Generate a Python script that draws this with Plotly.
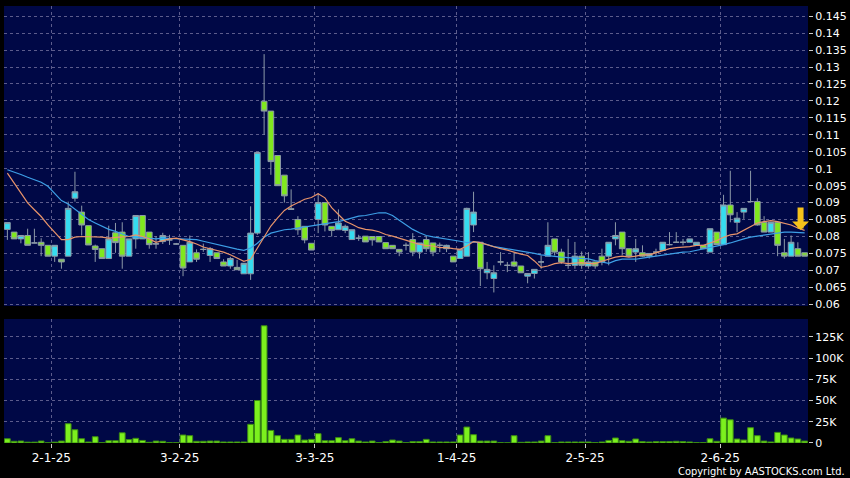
import plotly.graph_objects as go

# ---------------- data ----------------
open_ = [0.0821, 0.0813, 0.0793, 0.0803, 0.0781, 0.0783, 0.0774, 0.0742, 0.0733, 0.0742,
         0.0913, 0.0872, 0.0832, 0.0772, 0.0764, 0.0735, 0.0811, 0.0813, 0.0742, 0.0793,
         0.0862, 0.0813, 0.0779, 0.0785, 0.0790, 0.0778, 0.0774, 0.0725, 0.0752, 0.0762,
         0.0744, 0.0752, 0.0725, 0.0713, 0.0709, 0.0690, 0.0690, 0.0810, 0.1199, 0.1170,
         0.1039, 0.0981, 0.0882, 0.0850, 0.0830, 0.0780, 0.0850, 0.0900, 0.0830, 0.0820,
         0.0818, 0.0791, 0.0795, 0.0801, 0.0800, 0.0800, 0.0782, 0.0774, 0.0762, 0.0774,
         0.0791, 0.0754, 0.0791, 0.0781, 0.0774, 0.0764, 0.0742, 0.0735, 0.0742, 0.0834,
         0.0783, 0.0693, 0.0676, 0.0725, 0.0715, 0.0725, 0.0713, 0.0683, 0.0691, 0.0725,
         0.0742, 0.0793, 0.0754, 0.0715, 0.0715, 0.0742, 0.0713, 0.0725, 0.0742, 0.0742,
         0.0793, 0.0813, 0.0764, 0.0754, 0.0752, 0.0742, 0.0754, 0.0759, 0.0776, 0.0783,
         0.0783, 0.0783, 0.0774, 0.0774, 0.0754, 0.0813, 0.0776, 0.0893, 0.0842, 0.0872,
         0.0903, 0.0903, 0.0842, 0.0813, 0.0842, 0.0752, 0.0742, 0.0764, 0.0752]
high = [0.0841, 0.0813, 0.0803, 0.0823, 0.0823, 0.0795, 0.0774, 0.0774, 0.0733, 0.0903,
        0.0991, 0.0891, 0.0832, 0.0776, 0.0764, 0.0832, 0.0840, 0.0842, 0.0793, 0.0862,
        0.0862, 0.0813, 0.0801, 0.0811, 0.0805, 0.0781, 0.0774, 0.0803, 0.0762, 0.0779,
        0.0769, 0.0752, 0.0733, 0.0740, 0.0731, 0.0721, 0.0889, 0.1048, 0.1338, 0.1170,
        0.1039, 0.0981, 0.0939, 0.0860, 0.0830, 0.0780, 0.0928, 0.0900, 0.0830, 0.0880,
        0.0835, 0.0820, 0.0805, 0.0801, 0.0800, 0.0800, 0.0782, 0.0774, 0.0762, 0.0782,
        0.0810, 0.0781, 0.0801, 0.0781, 0.0782, 0.0776, 0.0742, 0.0762, 0.0885, 0.0932,
        0.0783, 0.0725, 0.0715, 0.0754, 0.0725, 0.0754, 0.0713, 0.0691, 0.0703, 0.0744,
        0.0842, 0.0793, 0.0764, 0.0793, 0.0784, 0.0756, 0.0754, 0.0725, 0.0764, 0.0783,
        0.0842, 0.0813, 0.0764, 0.0793, 0.0774, 0.0750, 0.0764, 0.0783, 0.0813, 0.0813,
        0.0793, 0.0793, 0.0783, 0.0774, 0.0823, 0.0813, 0.0923, 0.0994, 0.0872, 0.0883,
        0.0994, 0.0913, 0.0860, 0.0842, 0.0842, 0.0793, 0.0803, 0.0783, 0.0752]
low = [0.0790, 0.0793, 0.0780, 0.0774, 0.0780, 0.0742, 0.0742, 0.0725, 0.0705, 0.0742,
       0.0903, 0.0803, 0.0775, 0.0725, 0.0735, 0.0735, 0.0752, 0.0705, 0.0742, 0.0764,
       0.0793, 0.0764, 0.0764, 0.0778, 0.0775, 0.0776, 0.0683, 0.0725, 0.0725, 0.0755,
       0.0725, 0.0735, 0.0713, 0.0705, 0.0702, 0.0690, 0.0672, 0.0805, 0.1100, 0.0982,
       0.0950, 0.0900, 0.0879, 0.0805, 0.0780, 0.0760, 0.0810, 0.0815, 0.0800, 0.0820,
       0.0810, 0.0791, 0.0787, 0.0784, 0.0773, 0.0784, 0.0764, 0.0764, 0.0742, 0.0759,
       0.0742, 0.0735, 0.0755, 0.0742, 0.0754, 0.0754, 0.0725, 0.0735, 0.0742, 0.0813,
       0.0654, 0.0674, 0.0635, 0.0715, 0.0695, 0.0710, 0.0693, 0.0662, 0.0676, 0.0705,
       0.0742, 0.0744, 0.0720, 0.0705, 0.0705, 0.0705, 0.0705, 0.0705, 0.0715, 0.0715,
       0.0774, 0.0745, 0.0740, 0.0725, 0.0740, 0.0735, 0.0742, 0.0759, 0.0774, 0.0781,
       0.0774, 0.0783, 0.0774, 0.0764, 0.0754, 0.0776, 0.0776, 0.0842, 0.0813, 0.0852,
       0.0903, 0.0832, 0.0813, 0.0813, 0.0742, 0.0735, 0.0742, 0.0742, 0.0742]
close = [0.0841, 0.0793, 0.0803, 0.0774, 0.0781, 0.0774, 0.0742, 0.0774, 0.0725, 0.0883,
         0.0932, 0.0834, 0.0775, 0.0762, 0.0735, 0.0793, 0.0782, 0.0742, 0.0793, 0.0862,
         0.0793, 0.0776, 0.0778, 0.0803, 0.0790, 0.0778, 0.0707, 0.0783, 0.0733, 0.0762,
         0.0764, 0.0735, 0.0713, 0.0735, 0.0702, 0.0721, 0.0810, 0.1048, 0.1170, 0.1021,
         0.0950, 0.0920, 0.0880, 0.0820, 0.0790, 0.0760, 0.0900, 0.0834, 0.0818, 0.0840,
         0.0830, 0.0820, 0.0795, 0.0784, 0.0790, 0.0784, 0.0764, 0.0764, 0.0754, 0.0774,
         0.0754, 0.0781, 0.0764, 0.0754, 0.0774, 0.0774, 0.0725, 0.0762, 0.0883, 0.0872,
         0.0705, 0.0703, 0.0693, 0.0725, 0.0715, 0.0713, 0.0693, 0.0691, 0.0703, 0.0725,
         0.0774, 0.0754, 0.0725, 0.0715, 0.0742, 0.0715, 0.0725, 0.0713, 0.0725, 0.0783,
         0.0803, 0.0764, 0.0742, 0.0764, 0.0742, 0.0750, 0.0754, 0.0783, 0.0776, 0.0783,
         0.0783, 0.0793, 0.0783, 0.0764, 0.0823, 0.0776, 0.0893, 0.0864, 0.0854, 0.0883,
         0.0903, 0.0834, 0.0813, 0.0842, 0.0774, 0.0742, 0.0783, 0.0742, 0.0742]
volume = [5000, 2000, 2300, 1000, 1000, 2300, 200, 1000, 2300, 22700,
          15600, 5000, 1200, 7400, 300, 2700, 2700, 12000, 4000, 5500,
          3000, 800, 2300, 2000, 400, 300, 9400, 8600, 2000, 2000,
          2300, 2300, 1200, 1200, 1200, 1200, 22000, 50000, 138000, 14800,
          8600, 4300, 4300, 9400, 3500, 4300, 11000, 2700, 2700, 6300,
          2700, 5000, 2300, 1200, 2300, 400, 1600, 3500, 2300, 300,
          1600, 1600, 4300, 1200, 1200, 1200, 1200, 9400, 18800, 9800,
          2300, 2300, 2300, 400, 200, 8600, 800, 1200, 1200, 2300,
          8600, 400, 1200, 1200, 1200, 1200, 1200, 400, 1200, 3000,
          5900, 2700, 2000, 4700, 1600, 1200, 1600, 1600, 1600, 2000,
          1600, 1200, 400, 400, 5000, 2000, 29300, 27300, 4700, 3500,
          18000, 8600, 2300, 1200, 12500, 9400, 5900, 4700, 2300]
ma_short = [0.0987, 0.0958, 0.0928, 0.0899, 0.0879, 0.0859, 0.0834, 0.0811, 0.0791, 0.0791,
            0.0798, 0.0800, 0.0800, 0.0800, 0.0798, 0.0795, 0.0798, 0.0799, 0.0800, 0.0805,
            0.0800, 0.0793, 0.0783, 0.0788, 0.0793, 0.0795, 0.0791, 0.0785, 0.0778, 0.0769,
            0.0764, 0.0759, 0.0754, 0.0746, 0.0736, 0.0727, 0.0733, 0.0766, 0.0800, 0.0831,
            0.0855, 0.0877, 0.0890, 0.0900, 0.0910, 0.0915, 0.0926, 0.0914, 0.0885, 0.0865,
            0.0845, 0.0836, 0.0826, 0.0821, 0.0819, 0.0814, 0.0806, 0.0801, 0.0795, 0.0789,
            0.0782, 0.0777, 0.0774, 0.0772, 0.0767, 0.0767, 0.0764, 0.0762, 0.0772, 0.0785,
            0.0782, 0.0776, 0.0768, 0.0764, 0.0760, 0.0753, 0.0748, 0.0744, 0.0728, 0.0709,
            0.0713, 0.0720, 0.0723, 0.0720, 0.0722, 0.0723, 0.0720, 0.0720, 0.0727, 0.0734,
            0.0739, 0.0742, 0.0739, 0.0742, 0.0746, 0.0746, 0.0752, 0.0756, 0.0764, 0.0767,
            0.0768, 0.0770, 0.0774, 0.0774, 0.0781, 0.0788, 0.0798, 0.0805, 0.0808, 0.0818,
            0.0830, 0.0840, 0.0844, 0.0847, 0.0844, 0.0840, 0.0834, 0.0825, 0.0818]
ma_long = [0.0997, 0.0991, 0.0983, 0.0975, 0.0967, 0.0960, 0.0948, 0.0928, 0.0906, 0.0896,
           0.0881, 0.0864, 0.0850, 0.0840, 0.0831, 0.0821, 0.0815, 0.0808, 0.0800, 0.0798,
           0.0796, 0.0793, 0.0793, 0.0795, 0.0794, 0.0793, 0.0793, 0.0793, 0.0791, 0.0786,
           0.0781, 0.0777, 0.0772, 0.0768, 0.0763, 0.0759, 0.0766, 0.0780, 0.0798, 0.0810,
           0.0815, 0.0820, 0.0822, 0.0825, 0.0827, 0.0832, 0.0835, 0.0838, 0.0840, 0.0844,
           0.0849, 0.0855, 0.0860, 0.0862, 0.0865, 0.0870, 0.0870, 0.0862, 0.0848, 0.0834,
           0.0821, 0.0811, 0.0803, 0.0799, 0.0796, 0.0793, 0.0791, 0.0786, 0.0782, 0.0784,
           0.0782, 0.0776, 0.0770, 0.0767, 0.0764, 0.0760, 0.0757, 0.0754, 0.0750, 0.0746,
           0.0743, 0.0741, 0.0739, 0.0738, 0.0736, 0.0736, 0.0734, 0.0729, 0.0725, 0.0721,
           0.0729, 0.0733, 0.0733, 0.0733, 0.0736, 0.0739, 0.0742, 0.0744, 0.0749, 0.0752,
           0.0754, 0.0755, 0.0759, 0.0764, 0.0766, 0.0772, 0.0776, 0.0781, 0.0788, 0.0793,
           0.0798, 0.0801, 0.0805, 0.0808, 0.0811, 0.0813, 0.0813, 0.0813, 0.0811]

month_start_idx = [7, 26, 46, 67, 86, 106]
month_labels = ["2-1-25", "3-2-25", "3-3-25", "1-4-25", "2-5-25", "2-6-25"]
price_tick_vals = [0.06, 0.065, 0.07, 0.075, 0.08, 0.085, 0.09, 0.095, 0.1,
                   0.105, 0.11, 0.115, 0.12, 0.125, 0.13, 0.135, 0.14, 0.145]
price_tick_text = ["0.06", "0.065", "0.07", "0.075", "0.08", "0.085", "0.09", "0.095", "0.1",
                   "0.105", "0.11", "0.115", "0.12", "0.125", "0.13", "0.135", "0.14", "0.145"]
vol_tick_vals = [0, 25000, 50000, 75000, 100000, 125000]
vol_tick_text = ["0", "25K", "50K", "75K", "100K", "125K"]

# ---------------- figure ----------------
n = len(close)
xs = list(range(n))
month_grid = [m - 0.5 for m in month_start_idx]

GRID = "#5c5c8c"
FONT = "DejaVu Sans"
UP_FILL = "#35dcf0"
DOWN_FILL = "#80e81e"
EDGE = "#8c9aa8"

fig = go.Figure()
fig.add_trace(go.Candlestick(
    x=xs, open=open_, high=high, low=low, close=close,
    increasing=dict(fillcolor=UP_FILL, line=dict(color=EDGE, width=1)),
    decreasing=dict(fillcolor=DOWN_FILL, line=dict(color=EDGE, width=1)),
    whiskerwidth=0, xaxis="x", yaxis="y", showlegend=False, hoverinfo="skip"))
fig.add_trace(go.Scatter(x=xs, y=ma_long, mode="lines",
                         line=dict(color="#3d9fe6", width=1.2),
                         xaxis="x", yaxis="y", showlegend=False, hoverinfo="skip"))
fig.add_trace(go.Scatter(x=xs, y=ma_short, mode="lines",
                         line=dict(color="#e8946a", width=1.2),
                         xaxis="x", yaxis="y", showlegend=False, hoverinfo="skip"))
fig.add_trace(go.Bar(x=xs, y=volume, width=0.85,
                     marker=dict(color="#7cf01e", line=dict(color="#3c8c12", width=1)),
                     xaxis="x2", yaxis="y2", showlegend=False, hoverinfo="skip"))

fig.add_annotation(x=117.4, y=0.0819, xref="x", yref="y", ax=0, ay=-24,
                   showarrow=True, arrowhead=1, arrowsize=0.47, arrowwidth=6,
                   arrowcolor="#f5c21a", text="")
fig.add_annotation(x=1, y=0, xref="paper", yref="paper", xanchor="right", yanchor="middle",
                   xshift=39, yshift=-28, showarrow=False,
                   text="Copyright by AASTOCKS.com Ltd.",
                   font=dict(family="DejaVu Sans Condensed, Liberation Sans Narrow, DejaVu Sans",
                             size=11, color="#ffffff"))

axis_common = dict(showgrid=True, gridcolor=GRID, griddash="dot", gridwidth=1,
                   zeroline=False, showline=False, automargin=False)
fig.update_layout(
    width=850, height=478,
    margin=dict(l=4, r=42, t=6, b=35),
    paper_bgcolor="#000000", plot_bgcolor="#000846",
    font=dict(family=FONT, color="#ffffff"),
    boxgap=0.16, boxgroupgap=0,
    xaxis=dict(domain=[0, 1], anchor="y", range=[-0.5, n - 0.5],
               tickvals=month_grid, showticklabels=False, ticks="",
               rangeslider=dict(visible=False), **axis_common),
    yaxis=dict(domain=[0.3135, 1], anchor="x", side="right",
               range=[0.0595, 0.148], tickvals=price_tick_vals, ticktext=price_tick_text,
               ticks="outside", ticklen=4, tickcolor="#cccccc",
               tickfont=dict(size=11, color="#ffffff"), **axis_common),
    xaxis2=dict(domain=[0, 1], anchor="y2", matches="x", range=[-0.5, n - 0.5],
                tickvals=month_grid, ticktext=month_labels,
                ticks="outside", ticklen=4, tickcolor="#cccccc",
                tickfont=dict(size=12, color="#ffffff"), **axis_common),
    yaxis2=dict(domain=[0, 0.2838], anchor="x2", side="right",
                range=[0, 146000], tickvals=vol_tick_vals, ticktext=vol_tick_text,
                ticks="outside", ticklen=4, tickcolor="#cccccc",
                tickfont=dict(size=11, color="#ffffff"), **axis_common),
)

fig.write_html("out.html", config={"displayModeBar": False},
               post_script="document.body.style.margin='0';")
